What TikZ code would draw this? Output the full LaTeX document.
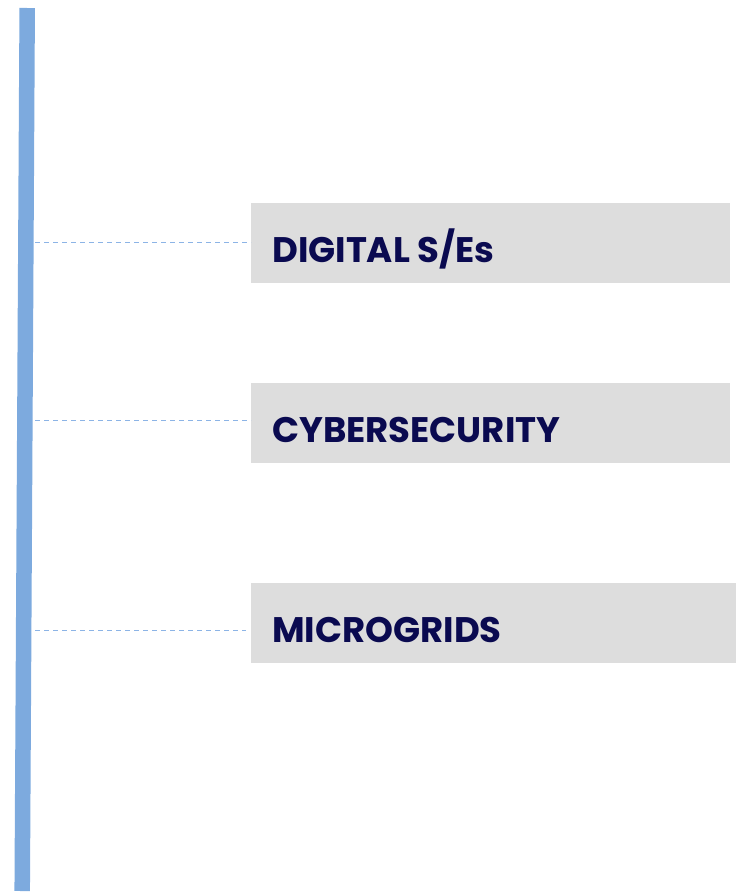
\documentclass[tikz,border=0pt]{standalone}
\usepackage{fontspec}
\setmainfont{Poppins}
\usetikzlibrary{positioning, calc}
\definecolor{barBlue}{RGB}{125, 170, 222}
\definecolor{dashBlue}{RGB}{140, 180, 230}
\definecolor{boxGrey}{RGB}{221, 221, 221}
\definecolor{navyText}{RGB}{10, 10, 80}
\tikzstyle{bar} = [draw=barBlue, line width=15.5pt]
\tikzstyle{link} = [draw=dashBlue, line width=1pt, dash pattern=on 5pt off 4pt]
\tikzstyle{box} = [rectangle, fill=boxGrey, minimum width=479pt, minimum height=80pt, inner sep=0pt]
\tikzstyle{label text} = [text=navyText, font=\fontsize{35.5}{38}\selectfont\bfseries, inner sep=0pt]

\begin{document}
\begin{tikzpicture}[x=1pt, y=-1pt]
\useasboundingbox (0,0) rectangle (744,894);

\coordinate (bartop) at (27.2,8);
\coordinate (barbot) at (22.2,891);
\draw [bar] (bartop) -- (barbot);

\node (digital) [box, anchor=north west] at (251,202.7) {};
\node (cyber) [box, anchor=north west] at (251,383) {};
\node (micro) [box, anchor=north west, minimum width=485pt] at (251,582.7) {};

\node (digitaltxt) [label text, anchor=base west] at (272,262.7) {DIGITAL S/Es};
\node (cybertxt) [label text, anchor=base west] at (272,442.7) {CYBERSECURITY};
\node (microtxt) [label text, anchor=base west] at (272,642.7) {MICROGRIDS};

\coordinate (d0) at (35,242.7);
\coordinate (c0) at (35,420);
\coordinate (m0) at (35,630);
\draw [link] (d0) -- (digital.west |- d0);
\draw [link] (c0) -- (cyber.west |- c0);
\draw [link] (m0) -- ($(micro.west |- m0)+(-5,0)$);

\end{tikzpicture}
\end{document}
